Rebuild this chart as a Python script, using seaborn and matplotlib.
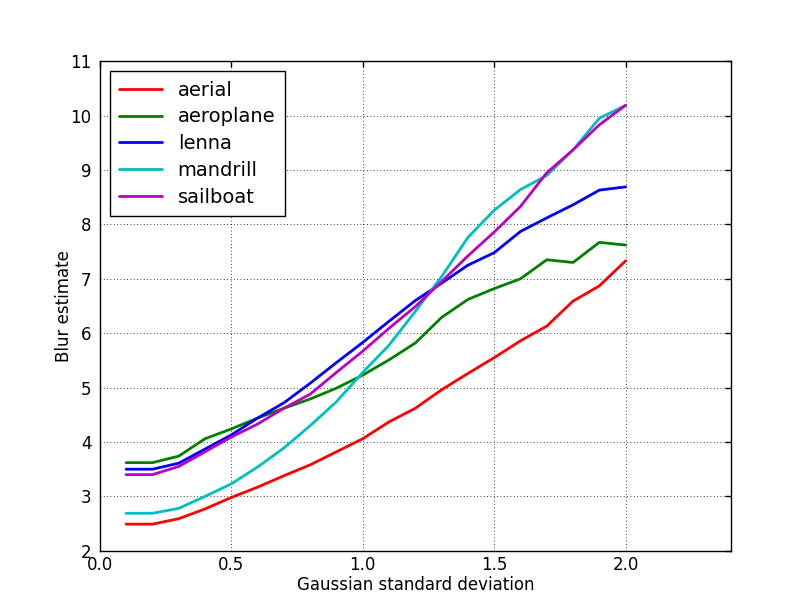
import numpy as np
import pandas as pd
import matplotlib
matplotlib.use("Agg")
import matplotlib.pyplot as plt
import seaborn as sns

# -----------------------------------------------------------------------------
# Data
# -----------------------------------------------------------------------------
sigma = [0.1, 0.2, 0.3, 0.4, 0.5, 0.6, 0.7, 0.8, 0.9, 1.0,
         1.1, 1.2, 1.3, 1.4, 1.5, 1.6, 1.7, 1.8, 1.9, 2.0]

aerial = [2.49, 2.49, 2.59, 2.77, 2.98, 3.17, 3.38, 3.58, 3.82, 4.06,
          4.37, 4.62, 4.96, 5.26, 5.55, 5.86, 6.13, 6.59, 6.87, 7.33]
aeroplane = [3.62, 3.62, 3.74, 4.06, 4.24, 4.44, 4.62, 4.79, 4.99, 5.23,
             5.51, 5.82, 6.29, 6.62, 6.82, 7.00, 7.35, 7.30, 7.67, 7.62]
lenna = [3.50, 3.50, 3.61, 3.87, 4.13, 4.44, 4.72, 5.08, 5.46, 5.83,
         6.22, 6.60, 6.92, 7.25, 7.48, 7.87, 8.12, 8.36, 8.63, 8.69]
mandrill = [2.69, 2.69, 2.78, 3.00, 3.23, 3.54, 3.89, 4.30, 4.74, 5.28,
            5.78, 6.40, 7.04, 7.76, 8.26, 8.64, 8.90, 9.37, 9.95, 10.19]
sailboat = [3.40, 3.40, 3.55, 3.82, 4.09, 4.33, 4.62, 4.88, 5.28, 5.67,
            6.09, 6.49, 6.95, 7.42, 7.86, 8.33, 8.95, 9.37, 9.83, 10.19]

names = ["aerial", "aeroplane", "lenna", "mandrill", "sailboat"]
series = [aerial, aeroplane, lenna, mandrill, sailboat]
colours = ["#ff0000", "#008000", "#0000ff", "#00bfbf", "#bf00bf"]

df = pd.concat(
    [pd.DataFrame({"sigma": sigma, "blur": s, "image": n}) for n, s in zip(names, series)],
    ignore_index=True,
)

# -----------------------------------------------------------------------------
# Plotting attributes
# -----------------------------------------------------------------------------
sns.set_style("white")
plt.rcParams["font.family"] = ["DejaVu Sans"]
plt.rcParams["text.color"] = "black"
plt.rcParams["axes.labelcolor"] = "black"
plt.rcParams["xtick.color"] = "black"
plt.rcParams["ytick.color"] = "black"
plt.rcParams["xtick.direction"] = "in"
plt.rcParams["ytick.direction"] = "in"
plt.rcParams["xtick.top"] = True
plt.rcParams["ytick.right"] = True
plt.rcParams["xtick.major.size"] = 4
plt.rcParams["ytick.major.size"] = 4
plt.rcParams["xtick.major.pad"] = 3.5
plt.rcParams["ytick.major.pad"] = 6

fig, ax = plt.subplots(figsize=(8.12, 6.12), dpi=100)
fig.subplots_adjust(left=0.123, right=0.9, bottom=0.1, top=0.9)

sns.lineplot(data=df, x="sigma", y="blur", hue="image", palette=colours,
             lw=2, errorbar=None, ax=ax)

ax.set_xlim(0, 2.4)
ax.set_ylim(2, 11)
ax.set_xticks([0.0, 0.5, 1.0, 1.5, 2.0])
ax.set_yticks(range(2, 12))
ax.tick_params(labelsize=12, width=1)
ax.set_xlabel("Gaussian standard deviation", fontsize=12, color="black", labelpad=2)
ax.set_ylabel("Blur estimate", fontsize=12, color="black", labelpad=-2)
ax.grid(True, color="black", lw=0.6, dashes=(1, 3))
for sp in ax.spines.values():
    sp.set_color("black")
    sp.set_linewidth(1)

leg = ax.legend(loc="upper left", fontsize=14, frameon=True, fancybox=False,
                handlelength=2.2, borderpad=0.5, labelspacing=0.4)
leg.get_frame().set_edgecolor("black")
leg.get_frame().set_linewidth(1)
leg.get_frame().set_alpha(1)
for t in leg.get_texts():
    t.set_color("black")

plt.savefig("out.png", dpi=100, facecolor="white")
